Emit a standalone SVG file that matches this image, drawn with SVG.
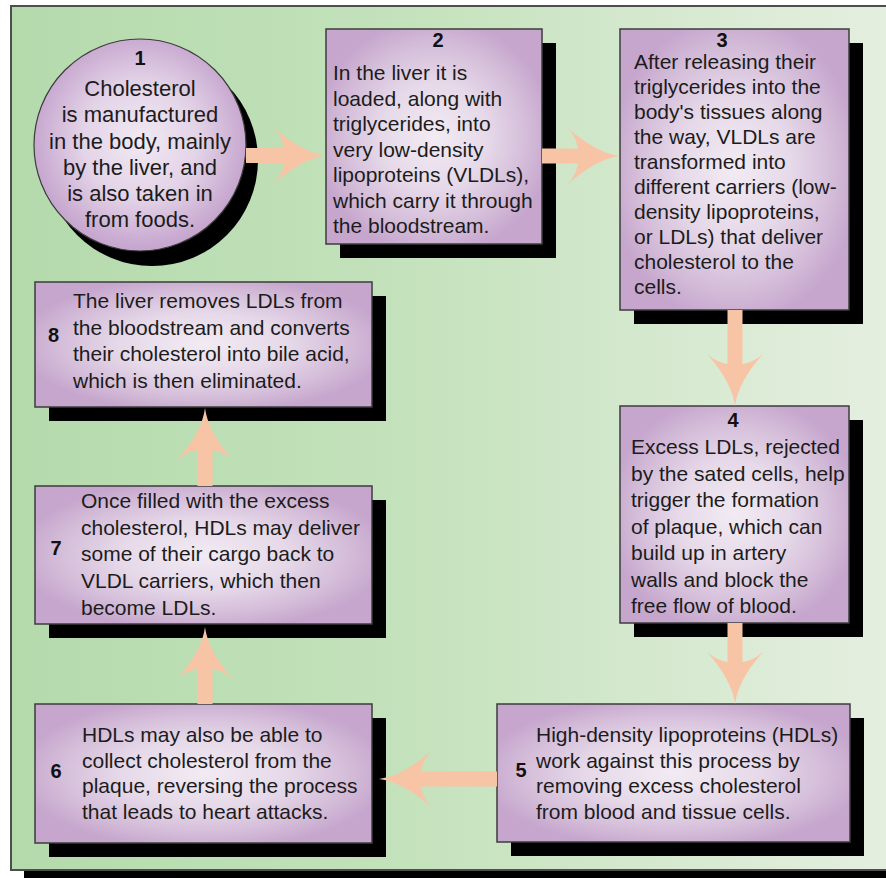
<svg xmlns="http://www.w3.org/2000/svg" xmlns:xlink="http://www.w3.org/1999/xlink" width="886" height="878" viewBox="0 0 886 878">
<defs>
<linearGradient id="bg" x1="0" y1="0" x2="1" y2="0">
<stop offset="0" stop-color="#b4daac"/>
<stop offset="0.45" stop-color="#c4e2bc"/>
<stop offset="1" stop-color="#e6efe1"/>
</linearGradient>
<radialGradient id="glow" cx="0.5" cy="0.5" r="0.55">
<stop offset="0" stop-color="#f2ebf3"/>
<stop offset="0.45" stop-color="#e6d9e9"/>
<stop offset="0.8" stop-color="#d3bbd8"/>
<stop offset="1" stop-color="#c6a6cd"/>
</radialGradient>
<radialGradient id="glowc" cx="0.5" cy="0.48" r="0.5">
<stop offset="0" stop-color="#f1e9f3"/>
<stop offset="0.55" stop-color="#e3d3e7"/>
<stop offset="1" stop-color="#c7a7cf"/>
</radialGradient>
<path id="ah" d="M0,0 Q-24,-3 -52,-28 Q-44,-19 -42,-7.5 L-42,7.5 Q-44,19 -52,28 Q-24,3 0,0 Z"/>
<style>
.sh{fill:#000}
.box{fill:url(#glow);stroke:#3c3c3c;stroke-width:1.5}
.t{font-family:"Liberation Sans",Arial,sans-serif;font-size:21px;fill:#1c1c1c}
.tc{font-family:"Liberation Sans",Arial,sans-serif;font-size:22px;fill:#1c1c1c;text-anchor:middle}
.n{font-family:"Liberation Sans",Arial,sans-serif;font-size:20px;font-weight:bold;fill:#111}
.c{text-anchor:middle}
.shaft{stroke:#f8c4a6;stroke-width:15;fill:none}
.head{fill:#f8c4a6}
</style>
</defs>
<g id="frame">
<rect x="24" y="19" width="880" height="880" class="sh"/>
<rect x="11" y="6" width="890" height="864" fill="url(#bg)" stroke="#4e4e4e" stroke-width="2"/>
</g>
<g id="node1">
<circle cx="152" cy="160" r="106" class="sh"/>
<circle cx="140" cy="145" r="106" fill="url(#glowc)" stroke="#3c3c3c" stroke-width="1.2"/>
<text class="n c" x="140" y="65">1</text>
<text class="tc"><tspan x="140" y="96">Cholesterol</tspan><tspan x="140" y="122">is manufactured</tspan><tspan x="140" y="148.5">in the body, mainly</tspan><tspan x="140" y="174.5">by the liver, and</tspan><tspan x="140" y="201">is also taken in</tspan><tspan x="140" y="227">from foods.</tspan></text>
</g>
<g id="node2">
<rect x="340" y="43" width="216" height="215" class="sh"/>
<rect x="326" y="29" width="216" height="215" class="box"/>
<text class="n c" x="438" y="47">2</text>
<text class="t"><tspan x="333" y="80">In the liver it is</tspan><tspan x="333" y="105.5">loaded, along with</tspan><tspan x="333" y="131">triglycerides, into</tspan><tspan x="333" y="156.5">very low-density</tspan><tspan x="333" y="182">lipoproteins (VLDLs),</tspan><tspan x="333" y="207.5">which carry it through</tspan><tspan x="333" y="233">the bloodstream.</tspan></text>
</g>
<g id="node3">
<rect x="634" y="43" width="229" height="281" class="sh"/>
<rect x="620" y="29" width="229" height="281" class="box"/>
<text class="n c" x="722" y="47">3</text>
<text class="t"><tspan x="634" y="69">After releasing their</tspan><tspan x="634" y="94">triglycerides into the</tspan><tspan x="634" y="119">body's tissues along</tspan><tspan x="634" y="144">the way, VLDLs are</tspan><tspan x="634" y="169">transformed into</tspan><tspan x="634" y="194">different carriers (low-</tspan><tspan x="634" y="219">density lipoproteins,</tspan><tspan x="634" y="244">or LDLs) that deliver</tspan><tspan x="634" y="269">cholesterol to the</tspan><tspan x="634" y="294">cells.</tspan></text>
</g>
<g id="node4">
<rect x="634" y="420" width="229" height="217" class="sh"/>
<rect x="620" y="406" width="229" height="217" class="box"/>
<text class="n c" x="733" y="427">4</text>
<text class="t"><tspan x="631" y="454">Excess LDLs, rejected</tspan><tspan x="631" y="480.5">by the sated cells, help</tspan><tspan x="631" y="507">trigger the formation</tspan><tspan x="631" y="533.5">of plaque, which can</tspan><tspan x="631" y="560">build up in artery</tspan><tspan x="631" y="586.5">walls and block the</tspan><tspan x="631" y="613">free flow of blood.</tspan></text>
</g>
<g id="node5">
<rect x="511" y="718" width="353" height="138" class="sh"/>
<rect x="497" y="704" width="353" height="138" class="box"/>
<text class="n c" x="521" y="777">5</text>
<text class="t"><tspan x="536" y="742">High-density lipoproteins (HDLs)</tspan><tspan x="536" y="767.5">work against this process by</tspan><tspan x="536" y="793">removing excess cholesterol</tspan><tspan x="536" y="818.5">from blood and tissue cells.</tspan></text>
</g>
<g id="node6">
<rect x="49" y="718" width="337" height="139" class="sh"/>
<rect x="35" y="704" width="337" height="139" class="box"/>
<text class="n c" x="56" y="778">6</text>
<text class="t"><tspan x="82" y="742">HDLs may also be able to</tspan><tspan x="82" y="767.5">collect cholesterol from the</tspan><tspan x="82" y="793">plaque, reversing the process</tspan><tspan x="82" y="818.5">that leads to heart attacks.</tspan></text>
</g>
<g id="node7">
<rect x="49" y="500" width="337" height="138" class="sh"/>
<rect x="35" y="486" width="337" height="138" class="box"/>
<text class="n c" x="56" y="555">7</text>
<text class="t"><tspan x="81" y="508">Once filled with the excess</tspan><tspan x="81" y="534.7">cholesterol, HDLs may deliver</tspan><tspan x="81" y="561.4">some of their cargo back to</tspan><tspan x="81" y="588.1">VLDL carriers, which then</tspan><tspan x="81" y="614.8">become LDLs.</tspan></text>
</g>
<g id="node8">
<rect x="49" y="296" width="337" height="125" class="sh"/>
<rect x="35" y="282" width="337" height="125" class="box"/>
<text class="n c" x="53.5" y="342">8</text>
<text class="t"><tspan x="73" y="308">The liver removes LDLs from</tspan><tspan x="73" y="334.7">the bloodstream and converts</tspan><tspan x="73" y="361.3">their cholesterol into bile acid,</tspan><tspan x="73" y="388">which is then eliminated.</tspan></text>
</g>
<g id="connectors">
<line class="shaft" x1="246" y1="155.5" x2="290" y2="155.5"/>
<use href="#ah" class="head" transform="translate(326,155.5)"/>
<line class="shaft" x1="542" y1="156" x2="584" y2="156"/>
<use href="#ah" class="head" transform="translate(620,156)"/>
<line class="shaft" x1="735" y1="310" x2="735" y2="370"/>
<use href="#ah" class="head" transform="translate(735,406) rotate(90)"/>
<line class="shaft" x1="735" y1="623" x2="735" y2="668"/>
<use href="#ah" class="head" transform="translate(735,704) rotate(90)"/>
<line class="shaft" x1="497" y1="779" x2="416" y2="779"/>
<use href="#ah" class="head" transform="translate(379,779) rotate(180)"/>
<line class="shaft" x1="205" y1="704" x2="205" y2="663"/>
<use href="#ah" class="head" transform="translate(205,627) rotate(-90)"/>
<line class="shaft" x1="205" y1="486" x2="205" y2="444"/>
<use href="#ah" class="head" transform="translate(205,408) rotate(-90)"/>
</g>
</svg>
